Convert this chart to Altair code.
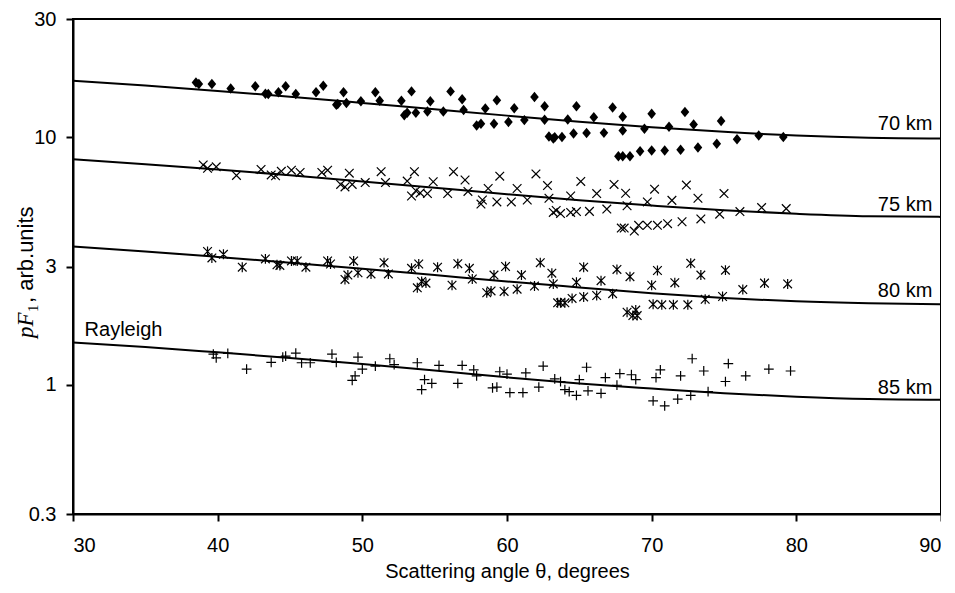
import altair as alt
import pandas as pd

# ---------- data ----------
# model curves (Rayleigh-shaped), values at 5-degree steps
curve_angles = [30, 35, 40, 45, 50, 55, 60, 65, 70, 75, 80, 85, 90]
curve_70 = [16.90, 16.16, 15.37, 14.56, 13.74, 12.95, 12.21, 11.54, 10.97, 10.50, 10.15, 9.94, 9.87]
curve_75 = [8.13, 7.77, 7.40, 7.01, 6.62, 6.24, 5.88, 5.56, 5.29, 5.06, 4.90, 4.79, 4.76]
curve_80 = [3.61, 3.45, 3.28, 3.11, 2.94, 2.77, 2.61, 2.47, 2.34, 2.24, 2.17, 2.13, 2.11]
curve_85 = [1.48, 1.42, 1.35, 1.28, 1.21, 1.14, 1.07, 1.01, 0.964, 0.923, 0.893, 0.874, 0.868]

# 70 km measurements (diamonds)
a70 = [38.5, 38.7, 39.6, 40.9, 42.6, 43.3, 43.5, 44.2, 44.7, 45.4, 46.8, 47.3, 48.2, 48.3,
       48.7, 48.9, 49.9, 50.9, 51.2, 52.7, 52.9, 53.1, 53.4, 53.7, 54.5, 54.7, 55.6, 56.1,
       56.9, 57.0, 57.9, 58.2, 58.5, 59.1, 59.3, 60.1, 60.5, 61.2, 61.9, 62.6, 62.6, 62.9,
       63.2, 63.3, 63.8, 64.2, 64.6, 64.8, 65.5, 66.0, 66.7, 67.3, 67.7, 68.0, 68.0, 68.0,
       68.5, 69.2, 69.5, 70.0, 70.0, 70.9, 71.2, 72.0, 72.3, 72.9, 73.2, 74.5, 74.8, 75.9,
       77.4, 79.1]
v70 = [16.62, 16.39, 16.40, 15.73, 16.05, 14.98, 14.93, 15.19, 16.05, 14.93, 15.19, 16.11, 13.50, 13.59,
       15.19, 13.73, 13.97, 15.19, 14.02, 14.02, 12.25, 12.55, 15.30, 12.55, 12.68, 13.97, 12.68, 15.30,
       14.21, 12.86, 11.15, 11.31, 13.04, 11.31, 14.10, 11.50, 13.08, 11.71, 14.52, 13.31, 11.75, 10.05,
       9.87, 9.98, 10.00, 11.79, 10.33, 13.31, 10.38, 12.03, 10.40, 13.17, 8.36, 8.36, 12.07, 10.62,
       8.36, 8.77, 10.81, 8.82, 12.42, 8.82, 11.00, 8.89, 12.64, 11.23, 9.08, 9.40, 11.62, 9.80,
       10.15, 10.00]

# 75 km measurements (x)
a75 = [39.0, 39.3, 39.9, 41.3, 43.0, 43.7, 44.0, 44.4, 45.1, 45.7, 47.2, 47.6, 48.5, 48.8,
       49.1, 49.3, 50.2, 51.3, 51.6, 53.1, 53.4, 53.6, 53.7, 54.0, 54.5, 54.9, 55.9, 56.3,
       57.1, 57.3, 58.2, 58.3, 58.7, 59.3, 59.5, 60.3, 60.7, 61.4, 62.0, 62.8, 62.9, 63.2,
       63.4, 63.7, 64.4, 64.4, 64.8, 65.1, 65.7, 66.2, 66.9, 67.4, 67.9, 68.1, 68.2, 68.3,
       68.8, 69.1, 69.7, 69.7, 70.2, 70.4, 71.1, 71.4, 72.1, 72.4, 73.2, 73.4, 74.7, 75.0,
       76.1, 77.6, 79.3]
v75 = [7.72, 7.48, 7.58, 7.00, 7.40, 7.03, 6.98, 7.27, 7.35, 7.20, 7.20, 7.35, 6.44, 6.29,
       7.15, 6.44, 6.55, 7.25, 6.55, 6.64, 5.78, 7.25, 6.07, 5.95, 5.91, 6.60, 5.91, 7.25,
       6.71, 6.03, 5.36, 5.57, 6.20, 5.47, 6.95, 5.47, 6.20, 5.57, 7.10, 6.37, 5.66, 4.96,
       5.05, 4.91, 4.96, 5.78, 5.00, 6.62, 5.01, 5.91, 5.12, 6.44, 4.29, 4.29, 5.93, 5.28,
       4.17, 4.40, 4.40, 5.47, 6.16, 4.40, 4.47, 5.55, 4.55, 6.40, 5.66, 4.67, 4.88, 5.91,
       5.00, 5.19, 5.14]

# 80 km measurements (asterisks)
a80 = [39.3, 39.6, 40.4, 41.7, 43.3, 44.1, 44.3, 45.1, 45.5, 46.1, 47.6, 47.8, 48.8, 49.0,
       49.4, 49.7, 50.6, 51.5, 51.8, 53.4, 53.8, 53.9, 54.1, 54.4, 55.2, 56.2, 56.6, 57.4,
       57.6, 58.6, 58.9, 59.1, 59.8, 59.9, 60.7, 61.0, 61.9, 62.3, 63.1, 63.2, 63.5, 63.7,
       64.0, 64.5, 64.8, 65.3, 65.3, 66.2, 66.5, 67.3, 67.6, 68.3, 68.5, 68.7, 68.9, 69.0,
       70.0, 70.1, 70.4, 70.7, 71.5, 71.6, 72.5, 72.7, 73.4, 73.7, 74.9, 75.1, 76.3, 77.8,
       79.4]
v80 = [3.45, 3.25, 3.36, 2.98, 3.22, 3.05, 3.03, 3.16, 3.16, 2.98, 3.16, 3.07, 2.66, 2.77,
       3.16, 2.83, 2.80, 3.11, 2.80, 2.95, 2.46, 3.07, 2.61, 2.57, 2.98, 2.52, 3.08, 2.95,
       2.67, 2.35, 2.39, 2.77, 2.38, 3.00, 2.43, 2.77, 2.50, 3.11, 2.82, 2.55, 2.14, 2.14,
       2.14, 2.23, 2.59, 2.26, 2.98, 2.29, 2.63, 2.33, 2.92, 1.96, 2.73, 1.90, 2.00, 1.90,
       2.52, 2.11, 2.89, 2.10, 2.10, 2.58, 2.10, 3.09, 2.77, 2.21, 2.27, 2.90, 2.42, 2.57,
       2.55]

# 85 km measurements (plus)
a85 = [39.7, 39.9, 40.7, 42.0, 43.7, 44.5, 44.7, 45.4, 45.8, 46.4, 47.9, 48.2, 49.3, 49.5,
       49.7, 50.0, 50.9, 51.9, 52.2, 53.8, 54.1, 54.3, 54.8, 55.3, 56.6, 56.9, 57.7, 57.9,
       59.0, 59.3, 59.5, 60.0, 60.2, 61.1, 61.3, 62.2, 62.5, 63.3, 63.7, 64.0, 64.3, 64.8,
       65.0, 65.5, 65.6, 66.5, 66.8, 67.6, 67.8, 68.6, 68.9, 70.1, 70.3, 70.6, 70.9, 71.8,
       72.0, 72.7, 72.8, 73.6, 73.9, 75.1, 75.3, 76.5, 78.1, 79.6]
v85 = [1.327, 1.281, 1.336, 1.154, 1.229, 1.290, 1.303, 1.340, 1.225, 1.225, 1.327, 1.229, 1.040, 1.084,
       1.290, 1.154, 1.187, 1.272, 1.203, 1.225, 0.954, 1.047, 1.012, 1.195, 1.012, 1.195, 1.146, 1.084,
       0.970, 0.977, 1.127, 1.103, 0.928, 0.928, 1.115, 0.977, 1.187, 1.055, 1.029, 0.954, 0.937, 0.905,
       1.047, 1.175, 0.944, 0.921, 1.066, 0.994, 1.107, 1.096, 1.047, 0.859, 1.066, 1.146, 0.821, 0.874,
       1.084, 0.905, 1.272, 1.135, 0.937, 1.029, 1.216, 1.084, 1.154, 1.135]

label_text = ["70 km", "75 km", "80 km", "85 km"]
label_angle = [89.4, 89.4, 89.4, 89.4]
label_value = [10.67, 5.05, 2.26, 0.912]

x_ticks = [30, 40, 50, 60, 70, 80, 90]
y_ticks = [0.3, 1, 3, 10, 30]

FONT = "Liberation Sans"

# ---------- tables ----------
curves = pd.concat([
    pd.DataFrame({"angle": curve_angles, "value": vals, "series": name})
    for name, vals in [("70", curve_70), ("75", curve_75), ("80", curve_80), ("85", curve_85)]
])
d70 = pd.DataFrame({"angle": a70, "value": v70})
d75 = pd.DataFrame({"angle": a75, "value": v75})
d80 = pd.DataFrame({"angle": a80, "value": v80})
d85 = pd.DataFrame({"angle": a85, "value": v85})
labels = pd.DataFrame({"angle": label_angle, "value": label_value, "text": label_text})
rayleigh = pd.DataFrame({"angle": [30.8], "value": [1.578], "text": ["Rayleigh"]})

xscale = alt.Scale(domain=[30, 90], nice=False, zero=False)
yscale = alt.Scale(type="log", domain=[0.3, 30], nice=False)

X = alt.X("angle:Q", scale=xscale,
          axis=alt.Axis(values=x_ticks, format="d", title="Scattering angle θ, degrees"))
Y = alt.Y("value:Q", scale=yscale,
          axis=alt.Axis(values=y_ticks, labelExpr="datum.value", title=None))

lines = alt.Chart(curves).mark_line(color="black", strokeWidth=2, interpolate="monotone").encode(
    x=X, y=Y, detail="series:N")

diamond = "M0,-1L0.82,0L0,1L-0.82,0Z"
xshape = "M-1,-1L1,1M-1,1L1,-1"
star = "M-1,-1L1,1M-1,1L1,-1M0,-1.15L0,1.15"
plus = "M-1,0L1,0M0,-1L0,1"

p70 = alt.Chart(d70).mark_point(shape=diamond, filled=True, color="black", size=110, opacity=1).encode(x=X, y=Y)
p75 = alt.Chart(d75).mark_point(shape=xshape, filled=False, stroke="black", strokeWidth=1.2, size=75, opacity=1).encode(x=X, y=Y)
p80 = alt.Chart(d80).mark_point(shape=star, filled=False, stroke="black", strokeWidth=1.2, size=75, opacity=1).encode(x=X, y=Y)
p85 = alt.Chart(d85).mark_point(shape=plus, filled=False, stroke="black", strokeWidth=1.2, size=95, opacity=1).encode(x=X, y=Y)

lab = alt.Chart(labels).mark_text(align="right", baseline="alphabetic", font=FONT, fontSize=20, color="black").encode(
    x=X, y=Y, text="text:N")
ray = alt.Chart(rayleigh).mark_text(align="left", baseline="alphabetic", font=FONT, fontSize=20, color="black").encode(
    x=X, y=Y, text="text:N")

# y-axis title: italic p F with subscript 1, then ", arb.units"
t1 = alt.Chart(pd.DataFrame({"t": ["pF"]})).mark_text(
    angle=270, align="left", baseline="alphabetic", font="Liberation Serif", fontStyle="italic",
    fontSize=23, color="black").encode(text="t:N", x=alt.value(-40), y=alt.value(319))
t2 = alt.Chart(pd.DataFrame({"t": ["1"]})).mark_text(
    angle=270, align="left", baseline="alphabetic", font="Liberation Serif",
    fontSize=15, color="black").encode(text="t:N", x=alt.value(-35), y=alt.value(293))
t3 = alt.Chart(pd.DataFrame({"t": [", arb.units"]})).mark_text(
    angle=270, align="left", baseline="alphabetic", font=FONT,
    fontSize=22, color="black").encode(text="t:N", x=alt.value(-40), y=alt.value(284))

chart = alt.layer(lines, p70, p75, p80, p85, lab, ray, t1, t2, t3).properties(
    width=868, height=495,
    autosize=alt.AutoSizeParams(type="none"),
    padding={"left": 65, "top": 11, "right": 0, "bottom": 71},
).configure_view(stroke="black", strokeWidth=2).configure_axis(
    domainColor="black", domainWidth=2, tickColor="black", tickWidth=2, tickSize=7,
    labelFont=FONT, labelFontSize=20, labelColor="black", grid=False,
    titleFont=FONT, titleFontSize=20, titleColor="black", titleFontWeight="normal",
).configure_axisX(labelPadding=14, titlePadding=6).configure_axisY(labelPadding=10)

chart.save("out.html", embed_options={"renderer": "svg", "actions": False})
